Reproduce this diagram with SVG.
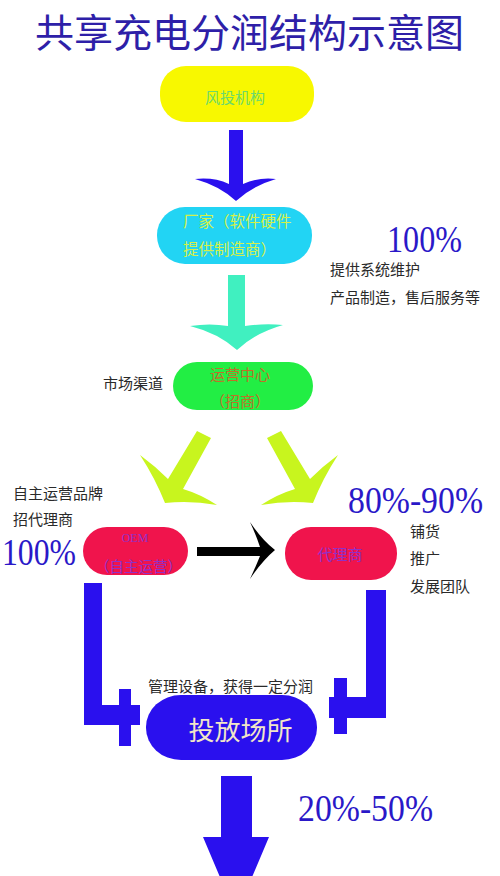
<svg xmlns="http://www.w3.org/2000/svg" width="500" height="876" viewBox="0 0 500 876">
<style>
.cjk{font-family:"Noto Sans CJK SC","Noto Sans",sans-serif;dominant-baseline:central}
.lbl{font-size:15px;fill:#2a2a2a}
.pct{font-family:"Liberation Serif","Noto Sans CJK SC",serif;font-size:38px;fill:#2a18c8}
.blue{fill:#2a10ee}
.purple{fill:#9030c8}
</style>
<rect width="500" height="876" fill="#ffffff"/>
<text class="cjk" x="249.5" y="30" text-anchor="middle" font-size="39" fill="#2e1fa8">共享充电分润结构示意图</text>

<g id="connectors">
  <path class="blue" d="M229,130 H243 V184 Q258,177 276,179 Q252,186 236,201 Q220,186 195,179 Q214,177 229,184 Z"/>
  <path fill="#40f0c0" d="M228,275 H245 V326 Q265,323 283,325 Q255,333 237,350 Q218,333 190,326 Q210,323 228,326 Z"/>
  <path fill="#c8f51e" d="M197,431 L211,438 L183,489 Q200,494 217,505 Q190,500 165,503 Q155,478 140,455 Q155,466 168,479 Z"/>
  <path fill="#c8f51e" transform="translate(478,0) scale(-1,1)" d="M197,431 L211,438 L183,489 Q200,494 217,505 Q190,500 165,503 Q155,478 140,455 Q155,466 168,479 Z"/>
  <path fill="#000000" d="M197,547 H260 Q256,535 250,522 Q262,540 275,550 Q262,561 250,579 Q256,566 260,556 H197 Z"/>
  <g class="blue">
    <rect x="84" y="583" width="18" height="142"/>
    <rect x="84" y="705" width="56" height="20"/>
    <rect x="119" y="689" width="12" height="57"/>
    <rect x="366" y="590" width="20" height="128"/>
    <rect x="329" y="697" width="57" height="21"/>
    <rect x="334" y="678" width="13" height="56"/>
  </g>
  <path class="blue" d="M221,776 H252 V837 H269 L236,915 L203,837 H221 Z"/>
</g>

<g id="node-vc">
  <rect x="160" y="66" width="154" height="56" rx="26" fill="#f8f800"/>
  <text class="cjk" x="235" y="96" text-anchor="middle" font-size="15" fill="#6cd86c">风投机构</text>
</g>
<g id="node-factory">
  <rect x="157" y="207" width="155" height="57" rx="28" fill="#22d4f4"/>
  <text class="cjk" x="183" y="220" font-size="15.5" fill="#d4f04a">厂家（软件硬件</text>
  <text class="cjk" x="183" y="248" font-size="15.5" fill="#d4f04a">提供制造商）</text>
</g>
<g id="node-ops">
  <rect x="173" y="362" width="140" height="48" rx="24" fill="#22ee44"/>
  <text class="cjk" x="240" y="373" text-anchor="middle" font-size="15" fill="#c07028">运营中心</text>
  <text class="cjk" x="240" y="400" text-anchor="middle" font-size="15" fill="#c07028">（招商）</text>
</g>
<g id="node-oem">
  <rect x="83" y="527" width="105" height="48" rx="24" fill="#f0144c"/>
  <text x="135" y="542" text-anchor="middle" font-family="Liberation Serif, serif" font-size="12" class="purple">OEM</text>
  <text class="cjk purple" x="138.5" y="565" text-anchor="middle" font-size="14.5">（自主运营）</text>
</g>
<g id="node-agent">
  <rect x="285" y="527" width="112" height="53" rx="26" fill="#f0144c"/>
  <text class="cjk purple" x="340" y="553" text-anchor="middle" font-size="15">代理商</text>
</g>
<g id="node-venue">
  <rect x="146" y="695" width="171" height="65" rx="35" ry="32" fill="#2a10ee"/>
  <text class="cjk" x="240.5" y="728" text-anchor="middle" font-size="26" fill="#f2e6c8">投放场所</text>
</g>

<g id="labels">
  <text class="pct" x="387" y="252" textLength="75" lengthAdjust="spacingAndGlyphs">100%</text>
  <text class="cjk lbl" x="330" y="268">提供系统维护</text>
  <text class="cjk lbl" x="330" y="296">产品制造，售后服务等</text>
  <text class="cjk lbl" x="103" y="382">市场渠道</text>
  <text class="cjk lbl" x="13" y="492">自主运营品牌</text>
  <text class="cjk lbl" x="13" y="518">招代理商</text>
  <text class="pct" x="2" y="565" textLength="74" lengthAdjust="spacingAndGlyphs">100%</text>
  <text class="pct" x="348" y="513" textLength="135" lengthAdjust="spacingAndGlyphs">80%-90%</text>
  <text class="cjk lbl" x="410" y="530">铺货</text>
  <text class="cjk lbl" x="410" y="557">推广</text>
  <text class="cjk lbl" x="410" y="585">发展团队</text>
  <text class="cjk lbl" x="148" y="685">管理设备，获得一定分润</text>
  <text class="pct" x="298" y="821" textLength="135" lengthAdjust="spacingAndGlyphs">20%-50%</text>
</g>
</svg>
